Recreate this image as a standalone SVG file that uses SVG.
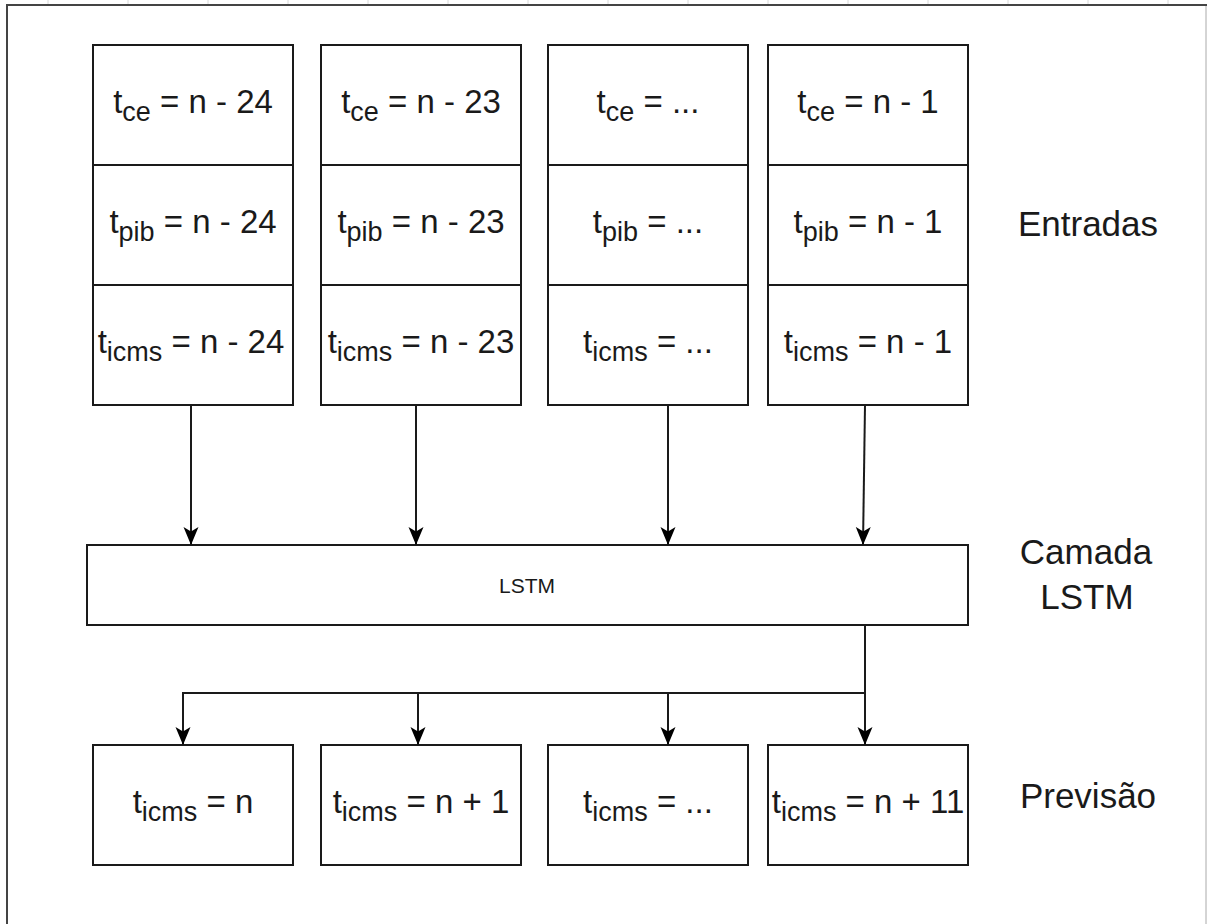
<svg xmlns="http://www.w3.org/2000/svg" width="1208" height="924" viewBox="0 0 1208 924">
<style>
.box{fill:#fff;stroke:#1a1a1a;stroke-width:2}
.t{font-family:"Liberation Sans",Arial,sans-serif;font-size:33px;fill:#1a1a1a;text-anchor:middle}
.s{font-size:27px}
.lbl{font-family:"Liberation Sans",Arial,sans-serif;font-size:35px;fill:#1a1a1a;text-anchor:middle}
.small{font-family:"Liberation Sans",Arial,sans-serif;font-size:21px;fill:#1a1a1a;text-anchor:middle}
.c{fill:none;stroke:#1a1a1a;stroke-width:2}
.grid{stroke:#d8d8d8;stroke-width:1}
</style>
<defs>
<marker id="arr" viewBox="0 0 18 16" refX="18" refY="8" markerWidth="18" markerHeight="16" orient="auto" markerUnits="userSpaceOnUse">
<path d="M0,0.5 L18,8 L0,15.5 L4.5,8 Z" fill="#000"/>
</marker>
</defs>
<rect width="1208" height="924" fill="#fff"/>
<g id="grid">
<line class="grid" x1="48" y1="0" x2="48" y2="5"/><line class="grid" x1="128" y1="0" x2="128" y2="5"/><line class="grid" x1="208" y1="0" x2="208" y2="5"/><line class="grid" x1="288" y1="0" x2="288" y2="5"/><line class="grid" x1="368" y1="0" x2="368" y2="5"/><line class="grid" x1="448" y1="0" x2="448" y2="5"/><line class="grid" x1="528" y1="0" x2="528" y2="5"/><line class="grid" x1="608" y1="0" x2="608" y2="5"/><line class="grid" x1="688" y1="0" x2="688" y2="5"/><line class="grid" x1="768" y1="0" x2="768" y2="5"/><line class="grid" x1="848" y1="0" x2="848" y2="5"/><line class="grid" x1="928" y1="0" x2="928" y2="5"/><line class="grid" x1="1008" y1="0" x2="1008" y2="5"/><line class="grid" x1="1088" y1="0" x2="1088" y2="5"/><line class="grid" x1="1168" y1="0" x2="1168" y2="5"/>
</g>
<g id="frame">
<line x1="6" y1="5" x2="1207" y2="5" stroke="#444" stroke-width="2"/>
<line x1="7" y1="4" x2="7" y2="924" stroke="#444" stroke-width="2"/>
<line x1="1206" y1="6" x2="1206" y2="924" stroke="#aaa" stroke-width="1"/>
</g>
<g id="col1">
<rect class="box" x="93" y="45" width="200" height="120"/><rect class="box" x="93" y="165" width="200" height="120"/><rect class="box" x="93" y="285" width="200" height="120"/>
<text class="t" x="193" y="113">t<tspan class="s" dy="8">ce</tspan><tspan dy="-8"> = n - 24</tspan></text>
<text class="t" x="193" y="233">t<tspan class="s" dy="8">pib</tspan><tspan dy="-8"> = n - 24</tspan></text>
<text class="t" x="191" y="353">t<tspan class="s" dy="8">icms</tspan><tspan dy="-8"> = n - 24</tspan></text>
</g>
<g id="col2">
<rect class="box" x="321" y="45" width="200" height="120"/><rect class="box" x="321" y="165" width="200" height="120"/><rect class="box" x="321" y="285" width="200" height="120"/>
<text class="t" x="421" y="113">t<tspan class="s" dy="8">ce</tspan><tspan dy="-8"> = n - 23</tspan></text>
<text class="t" x="421" y="233">t<tspan class="s" dy="8">pib</tspan><tspan dy="-8"> = n - 23</tspan></text>
<text class="t" x="421" y="353">t<tspan class="s" dy="8">icms</tspan><tspan dy="-8"> = n - 23</tspan></text>
</g>
<g id="col3">
<rect class="box" x="548" y="45" width="200" height="120"/><rect class="box" x="548" y="165" width="200" height="120"/><rect class="box" x="548" y="285" width="200" height="120"/>
<text class="t" x="648" y="113">t<tspan class="s" dy="8">ce</tspan><tspan dy="-8"> = ...</tspan></text>
<text class="t" x="648" y="233">t<tspan class="s" dy="8">pib</tspan><tspan dy="-8"> = ...</tspan></text>
<text class="t" x="648" y="353">t<tspan class="s" dy="8">icms</tspan><tspan dy="-8"> = ...</tspan></text>
</g>
<g id="col4">
<rect class="box" x="768" y="45" width="200" height="120"/><rect class="box" x="768" y="165" width="200" height="120"/><rect class="box" x="768" y="285" width="200" height="120"/>
<text class="t" x="868" y="113">t<tspan class="s" dy="8">ce</tspan><tspan dy="-8"> = n - 1</tspan></text>
<text class="t" x="868" y="233">t<tspan class="s" dy="8">pib</tspan><tspan dy="-8"> = n - 1</tspan></text>
<text class="t" x="868" y="353">t<tspan class="s" dy="8">icms</tspan><tspan dy="-8"> = n - 1</tspan></text>
</g>
<g id="lstm">
<rect class="box" x="87" y="545" width="881" height="80"/>
<text class="small" x="527" y="593">LSTM</text>
</g>
<g id="out1"><rect class="box" x="93" y="745" width="200" height="120"/><text class="t" x="193" y="813">t<tspan class="s" dy="8">icms</tspan><tspan dy="-8"> = n</tspan></text></g>
<g id="out2"><rect class="box" x="321" y="745" width="200" height="120"/><text class="t" x="421" y="813">t<tspan class="s" dy="8">icms</tspan><tspan dy="-8"> = n + 1</tspan></text></g>
<g id="out3"><rect class="box" x="548" y="745" width="200" height="120"/><text class="t" x="648" y="813">t<tspan class="s" dy="8">icms</tspan><tspan dy="-8"> = ...</tspan></text></g>
<g id="out4"><rect class="box" x="768" y="745" width="200" height="120"/><text class="t" x="868" y="813">t<tspan class="s" dy="8">icms</tspan><tspan dy="-8"> = n + 11</tspan></text></g>
<g id="labels">
<text class="lbl" x="1088" y="236">Entradas</text>
<text class="lbl" x="1086" y="564">Camada</text>
<text class="lbl" x="1087" y="609">LSTM</text>
<text class="lbl" x="1088" y="808">Previsão</text>
</g>
<g id="connectors">
<line class="c" x1="191" y1="405" x2="191" y2="545" marker-end="url(#arr)"/>
<line class="c" x1="416" y1="405" x2="416" y2="545" marker-end="url(#arr)"/>
<line class="c" x1="668" y1="405" x2="668" y2="545" marker-end="url(#arr)"/>
<line class="c" x1="865" y1="405" x2="863" y2="545" marker-end="url(#arr)"/>
<polyline class="c" points="865,625 865,693 183,693"/>
<line class="c" x1="183" y1="692" x2="183" y2="745" marker-end="url(#arr)"/>
<line class="c" x1="418" y1="693" x2="418" y2="745" marker-end="url(#arr)"/>
<line class="c" x1="668" y1="693" x2="668" y2="745" marker-end="url(#arr)"/>
<line class="c" x1="865" y1="693" x2="865" y2="745" marker-end="url(#arr)"/>
</g>
</svg>
